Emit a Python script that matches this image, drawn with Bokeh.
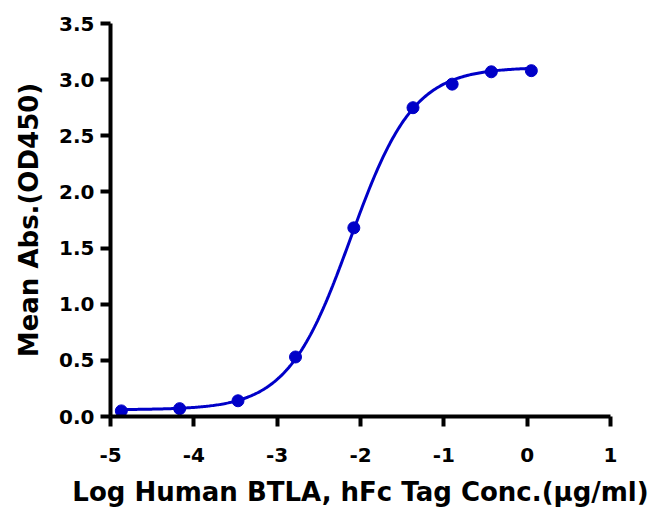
import numpy as np
from bokeh.plotting import figure
from bokeh.models import FixedTicker, Range1d
from bokeh.embed import file_html
from bokeh.resources import INLINE

# Data
log_conc = [-4.87, -4.17, -3.47, -2.78, -2.08, -1.37, -0.90, -0.43, 0.05]
mean_abs = [0.05, 0.07, 0.14, 0.53, 1.68, 2.75, 2.96, 3.07, 3.08]

# 4-parameter logistic fit parameters (estimated from the drawn curve)
fit_bottom = 0.06
fit_top = 3.11
fit_log_ec50 = -2.12
fit_hill = 1.15

x_ticks = [-5, -4, -3, -2, -1, 0, 1]
y_ticks = [0.0, 0.5, 1.0, 1.5, 2.0, 2.5, 3.0, 3.5]

x_fit = np.linspace(min(log_conc), max(log_conc), 300)
y_fit = fit_bottom + (fit_top - fit_bottom) / (1 + 10 ** ((fit_log_ec50 - x_fit) * fit_hill))

FONT = "DejaVu Sans"
BLUE = "#0000C8"

p = figure(width=650, height=514, output_backend="svg", toolbar_location=None,
           x_range=Range1d(-5, 1), y_range=Range1d(0, 3.5),
           min_border_left=110, min_border_right=40, min_border_top=23, min_border_bottom=98)
p.outline_line_color = None
p.grid.visible = False

p.line(x_fit, y_fit, line_color=BLUE, line_width=3)
p.scatter(log_conc, mean_abs, size=12, fill_color=BLUE, line_color=BLUE)

p.xaxis.ticker = FixedTicker(ticks=x_ticks)
p.xaxis.major_label_overrides = {t: str(t) for t in x_ticks}
p.yaxis.ticker = FixedTicker(ticks=y_ticks)
p.yaxis.major_label_overrides = {t: f"{t:.1f}" for t in y_ticks}

for ax in (p.xaxis[0], p.yaxis[0]):
    ax.axis_line_width = 4
    ax.axis_line_color = "black"
    ax.major_tick_line_width = 4
    ax.major_tick_line_color = "black"
    ax.major_tick_out = 10
    ax.major_tick_in = 0
    ax.minor_tick_line_color = None
    ax.major_label_text_font = FONT
    ax.major_label_text_font_style = "bold"
    ax.major_label_text_font_size = "20px"
    ax.major_label_text_color = "black"
    ax.axis_label_text_font = FONT
    ax.axis_label_text_font_style = "bold"
    ax.axis_label_text_font_size = "26px"
    ax.axis_label_text_color = "black"

p.xaxis.axis_label = "Log Human BTLA, hFc Tag Conc.(µg/ml)"
p.yaxis.axis_label = "Mean Abs.(OD450)"
p.xaxis.major_label_standoff = 21
p.yaxis.major_label_standoff = 6
p.xaxis.axis_label_standoff = 12
p.yaxis.axis_label_standoff = 12

open("out.html", "w").write(file_html(p, INLINE))
